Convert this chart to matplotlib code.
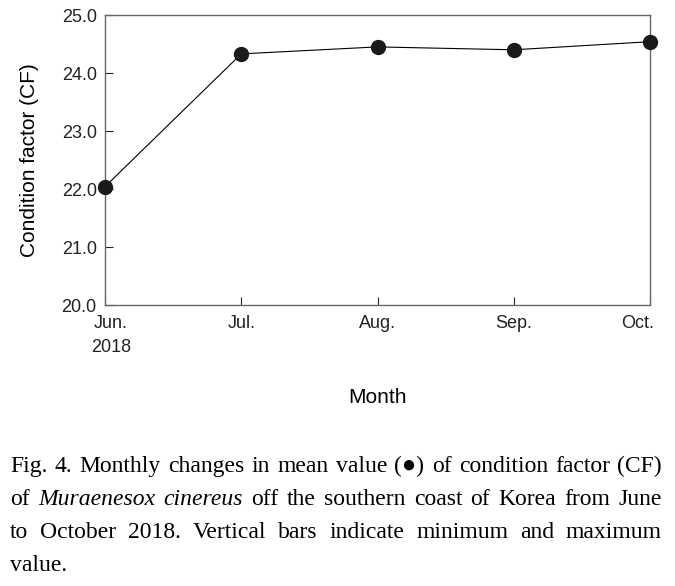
import matplotlib.pyplot as plt
from matplotlib.transforms import ScaledTranslation

# data
months = ['Jun.\n2018', 'Jul.', 'Aug.', 'Sep.', 'Oct.']
cf_mean = [22.04, 24.33, 24.45, 24.40, 24.54]

caption_lines = [
    [('Fig. 4. Monthly changes in mean value (\u25cf) of condition factor (CF)', 'normal')],
    [('of ', 'normal'), ('Muraenesox cinereus', 'italic'),
     (' off the southern coast of Korea from June', 'normal')],
    [('to October 2018. Vertical bars indicate minimum and maximum', 'normal')],
    [('value.', 'normal')],
]

plt.rcParams['font.family'] = ['Liberation Sans', 'DejaVu Sans']

fig = plt.figure(figsize=(6.75, 5.86), dpi=100)
ax = fig.add_axes([105 / 675, 1 - 305 / 586, 545 / 675, 290 / 586])

x = list(range(len(months)))
ax.plot(x, cf_mean, color='black', linewidth=0.8, marker='o',
        markersize=10, markerfacecolor='#1a1a1a', markeredgecolor='#1a1a1a',
        clip_on=False, zorder=3)

ax.set_xlim(0, len(months) - 1)
ax.set_ylim(20, 25)
ax.set_yticks([20, 21, 22, 23, 24, 25])
ax.set_yticklabels(['%.1f' % v for v in [20, 21, 22, 23, 24, 25]])
ax.set_xticks(x)
ax.set_xticklabels(months, linespacing=1.55)
ax.tick_params(direction='in', length=6, width=0.8, labelsize=13,
               colors='#222222')
ax.tick_params(axis='y', pad=6)
ax.tick_params(axis='x', pad=7)
for s in ax.spines.values():
    s.set_color('#666666')
    s.set_linewidth(1.0)

# nudge the end labels inward like the original
labels = ax.get_xticklabels()
labels[0].set_transform(labels[0].get_transform() +
                        ScaledTranslation(6 / 100, 0, fig.dpi_scale_trans))
labels[-1].set_transform(labels[-1].get_transform() +
                         ScaledTranslation(-12 / 100, 0, fig.dpi_scale_trans))

ax.set_xlabel('Month', fontsize=15, labelpad=23)
ax.set_ylabel('Condition factor (CF)', fontsize=15, labelpad=16)

# caption, justified like the printed figure legend
fig.canvas.draw()
renderer = fig.canvas.get_renderer()
left, right = 10, 662
y0 = 586 - 472
line_gap = 33
for i, parts in enumerate(caption_lines):
    words = []
    for text, style in parts:
        for w in text.split(' '):
            if w:
                words.append((w, style))
    y = (y0 - i * line_gap) / 586
    objs = []
    total = 0
    for w, style in words:
        t = fig.text(0, y, w, fontsize=17, family='Liberation Serif',
                     style=style, va='baseline', ha='left')
        bb = t.get_window_extent(renderer)
        objs.append((t, bb.width))
        total += bb.width
    if i < len(caption_lines) - 1:
        gap = (right - left - total) / (len(objs) - 1)
    else:
        gap = 4
    xpos = left
    for t, w in objs:
        t.set_x(xpos / 675)
        xpos += w + gap

fig.savefig('out.png', dpi=100)
